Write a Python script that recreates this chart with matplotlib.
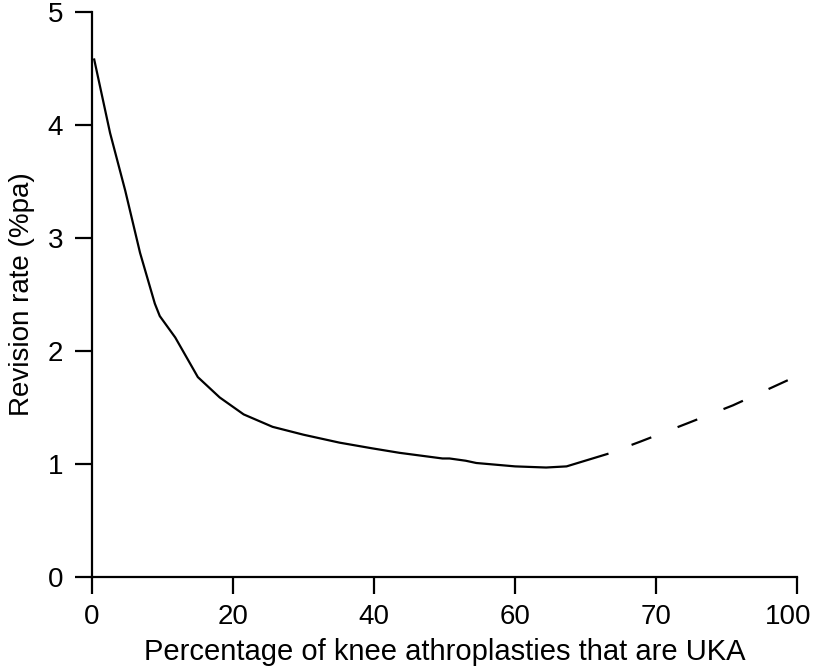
import matplotlib.pyplot as plt
from matplotlib.transforms import ScaledTranslation

plt.rcParams['font.family'] = ['Liberation Sans', 'DejaVu Sans']

# solid part of the curve
x_solid = [0.3, 2.55, 4.7, 6.8, 8.9, 9.6, 11.8, 15.0, 18.1, 21.5, 25.6, 30, 35.1, 39.7,
           43.6, 49.7, 50.7, 53, 54.5, 60, 64.4, 67.3, 73.1]
y_solid = [4.58, 3.93, 3.42, 2.87, 2.42, 2.31, 2.12, 1.77, 1.59, 1.44, 1.33, 1.26, 1.19, 1.14,
           1.10, 1.05, 1.05, 1.03, 1.01, 0.98, 0.97, 0.98, 1.09]

# dashed extension
x_dash = [73.1, 77.8, 84.4, 90.9, 100]
y_dash = [1.09, 1.20, 1.36, 1.52, 1.78]

x_ticks = [0, 20, 40, 60, 80, 100]
x_ticklabels = ["0", "20", "40", "60", "70", "100"]
y_ticks = [0, 1, 2, 3, 4, 5]

fig = plt.figure(figsize=(8.15, 6.68), dpi=100)
ax = fig.add_axes([0.113, 0.136, 0.865, 0.846])

ax.plot(x_solid, y_solid, color="black", lw=1.6)
ax.plot(x_dash, y_dash, color="black", lw=1.6, linestyle=(10.6, (9.5, 12.7)))

ax.set_xlim(0, 100)
ax.set_ylim(0, 5)
ax.set_xticks(x_ticks)
ax.set_xticklabels(x_ticklabels)
ax.set_yticks(y_ticks)

for s in ["top", "right"]:
    ax.spines[s].set_visible(False)
for s in ["left", "bottom"]:
    ax.spines[s].set_linewidth(1.6)
ax.tick_params(direction="out", length=12, width=1.6, labelsize=20)
ax.tick_params(axis="x", pad=7)
ax.tick_params(axis="y", pad=9)

# last x label sits a bit left of its tick, as in the original
lbl = ax.get_xticklabels()[-1]
lbl.set_transform(lbl.get_transform() + ScaledTranslation(-9 / 100, 0, fig.dpi_scale_trans))

ax.set_xlabel("Percentage of knee athroplasties that are UKA", fontsize=21, labelpad=6)
ax.set_ylabel("Revision rate (%pa)", fontsize=20, labelpad=9)

fig.savefig("out.png", dpi=100)
